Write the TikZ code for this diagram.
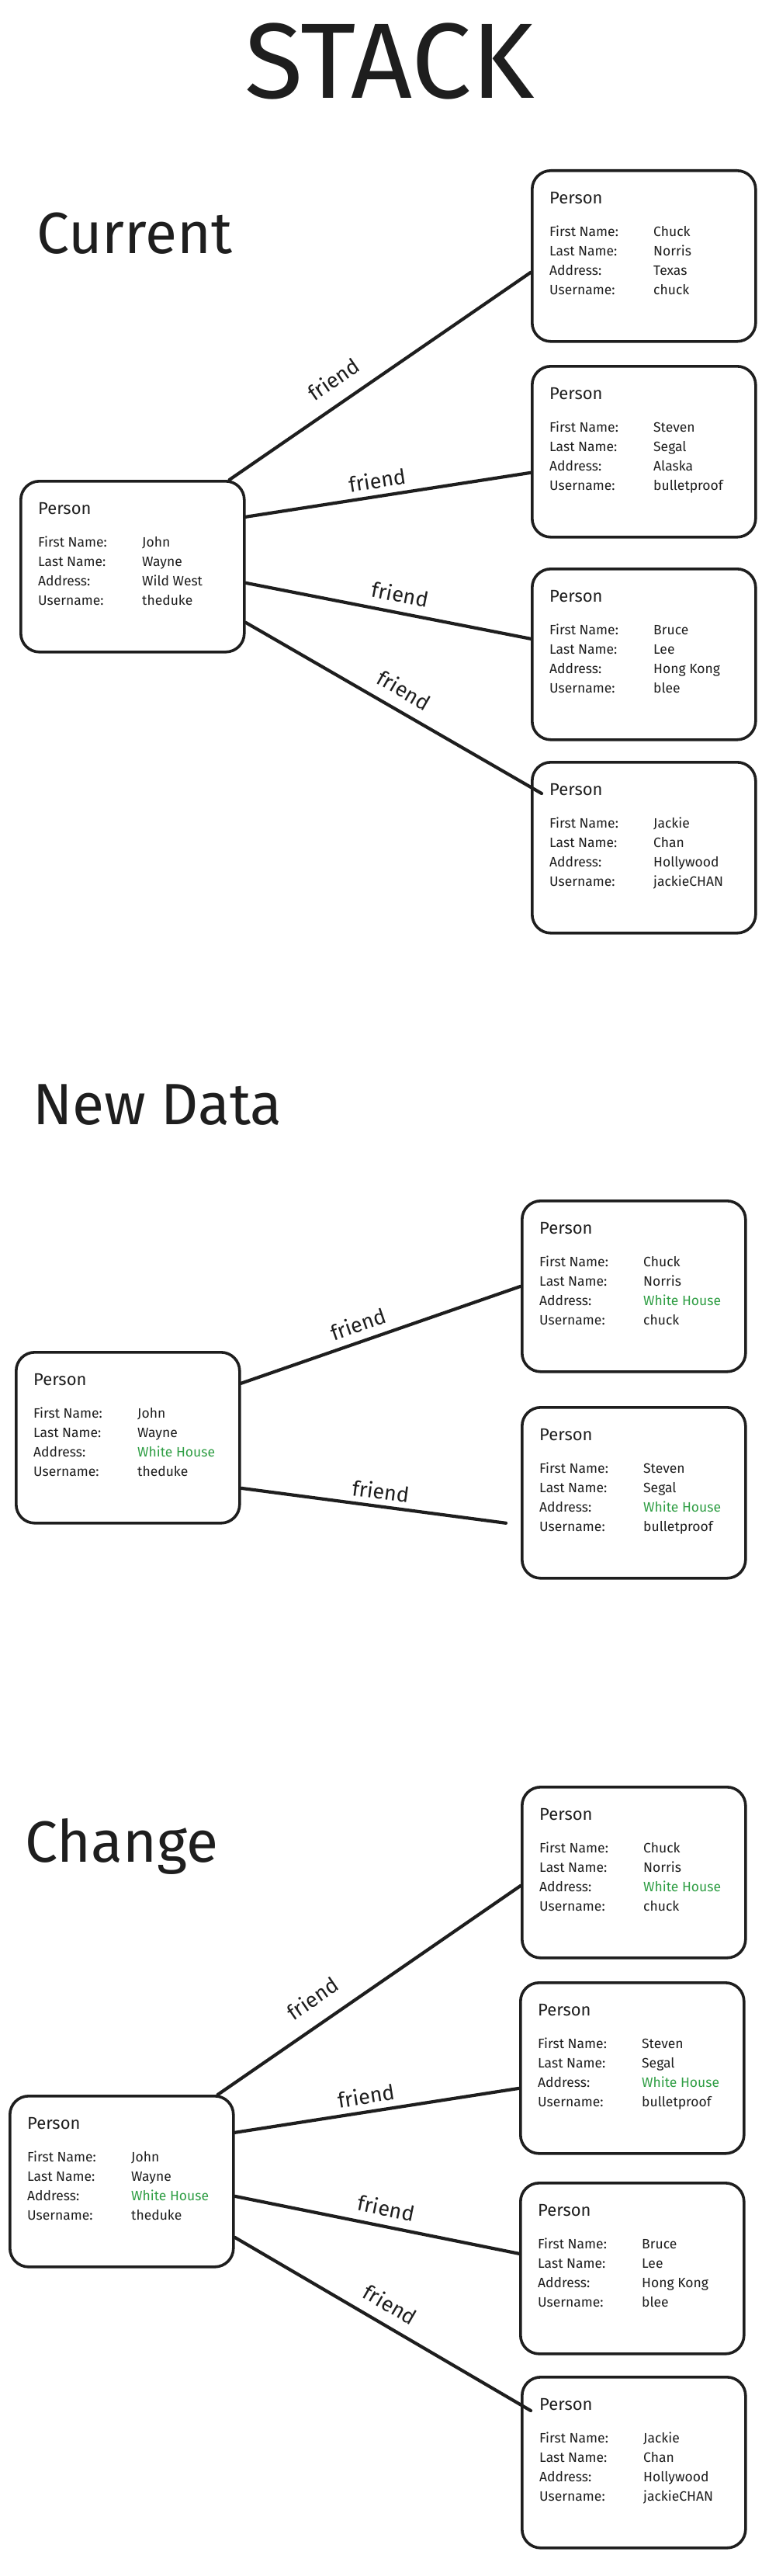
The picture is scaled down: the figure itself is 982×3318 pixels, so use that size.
\documentclass[tikz,border=0pt]{standalone}
\usepackage{fontspec}
\setmainfont{Fira Sans}
\usetikzlibrary{calc}
\definecolor{ink}{HTML}{1E1E1E}
\definecolor{grn}{HTML}{2F9E44}
\tikzset{
  pbox/.style={draw=ink, line width=3.6pt, rounded corners=24pt, minimum width=288pt, minimum height=220pt, anchor=north west, inner sep=0pt},
  ptitle/.style={anchor=base west, inner sep=0pt, font=\fontsize{22}{26}\selectfont, text=ink},
  plabel/.style={anchor=base west, inner sep=0pt, font=\fontsize{17.5}{21}\selectfont, text=ink},
  conn/.style={draw=ink, line width=4.2pt, line cap=round},
  flabel/.style={inner sep=0pt, font=\fontsize{27}{32}\selectfont, text=ink, sloped},
  heading/.style={anchor=base west, inner sep=0pt, font=\fontsize{75}{85}\selectfont, text=ink},
}
\newcommand{\pbox}[7]{%
  \node[pbox] (#1) at (#2,#3) {};
  \node[ptitle] (#1t) at ($(#1.north west)+(24,44)$) {Person};
  \node[plabel] (#1a) at ($(#1.north west)+(24,86)$) {First Name:};
  \node[plabel] (#1b) at ($(#1.north west)+(24,111)$) {Last Name:};
  \node[plabel] (#1c) at ($(#1.north west)+(24,136)$) {Address:};
  \node[plabel] (#1d) at ($(#1.north west)+(24,161)$) {Username:};
  \node[plabel] (#1e) at ($(#1.north west)+(158,86)$) {#4};
  \node[plabel] (#1f) at ($(#1.north west)+(158,111)$) {#5};
  \node[plabel] (#1g) at ($(#1.north west)+(158,136)$) {#6};
  \node[plabel] (#1h) at ($(#1.north west)+(158,161)$) {#7};
}
\newcommand{\wh}{\textcolor{grn}{White House}}
\begin{document}
\begin{tikzpicture}[x=1pt,y=-1pt]
\path[fill=white, use as bounding box] (0,0) rectangle (982,3318);

% title
\node[anchor=base, inner sep=0pt, font=\fontsize{138}{148}\selectfont, text=ink] (title) at (502,127) {STACK};

% ===== Current =====
\node[heading] (hcur) at (47,326) {Current};
\pbox{j1}{25}{618}{John}{Wayne}{Wild West}{theduke}
\pbox{c1}{684}{218}{Chuck}{Norris}{Texas}{chuck}
\pbox{s1}{684}{470}{Steven}{Segal}{Alaska}{bulletproof}
\pbox{b1}{684}{731}{Bruce}{Lee}{Hong Kong}{blee}
\pbox{k1}{684}{980}{Jackie}{Chan}{Hollywood}{jackieCHAN}

\draw[conn] ([xshift=-21pt]j1.north east) -- node[flabel, pos=0.39, above=18pt] {friend} ([yshift=-21pt]c1.west);
\draw[conn] ([yshift=64pt]j1.east) -- node[flabel, pos=0.47, above=8pt] {friend} ([yshift=-27pt]s1.west);
\draw[conn] ([yshift=-21pt]j1.east) -- node[flabel, pos=0.53, above=11pt] {friend} ([yshift=20pt]b1.west);
\draw[conn] ([yshift=-72pt]j1.east) -- node[flabel, pos=0.5, above=14pt] {friend} ([xshift=14pt,yshift=-42pt]k1.north west);

% ===== New Data =====
\node[heading] (hnew) at (42,1448) {New Data};
\pbox{j2}{19}{1740}{John}{Wayne}{\wh}{theduke}
\pbox{c2}{671}{1545}{Chuck}{Norris}{\wh}{chuck}
\pbox{s2}{671}{1811}{Steven}{Segal}{\wh}{bulletproof}

\draw[conn] ([yshift=70pt]j2.east) -- node[flabel, pos=0.44, above=10pt] {friend} (c2.west);
\draw[conn] ([yshift=-65pt]j2.east) -- node[flabel, pos=0.52, above=7pt] {friend} ([xshift=-19pt,yshift=-39pt]s2.west);

% ===== Change =====
\node[heading] (hchg) at (32,2398) {Change};
\pbox{j3}{11}{2698}{John}{Wayne}{\wh}{theduke}
\pbox{c3}{671}{2300}{Chuck}{Norris}{\wh}{chuck}
\pbox{s3}{669}{2552}{Steven}{Segal}{\wh}{bulletproof}
\pbox{b3}{669}{2810}{Bruce}{Lee}{Hong Kong}{blee}
\pbox{k3}{671}{3060}{Jackie}{Chan}{Hollywood}{jackieCHAN}

\draw[conn] ([xshift=-22pt]j3.north east) -- node[flabel, pos=0.36, above=20pt] {friend} ([yshift=-17pt]c3.west);
\draw[conn] ([yshift=63pt]j3.east) -- node[flabel, pos=0.47, above=8pt] {friend} ([yshift=-26pt]s3.west);
\draw[conn] ([yshift=-19pt]j3.east) -- node[flabel, pos=0.52, above=11pt] {friend} ([yshift=19pt]b3.west);
\draw[conn] ([yshift=-72pt]j3.east) -- node[flabel, pos=0.49, above=14pt] {friend} ([xshift=13pt,yshift=-45pt]k3.north west);
\end{tikzpicture}
\end{document}
